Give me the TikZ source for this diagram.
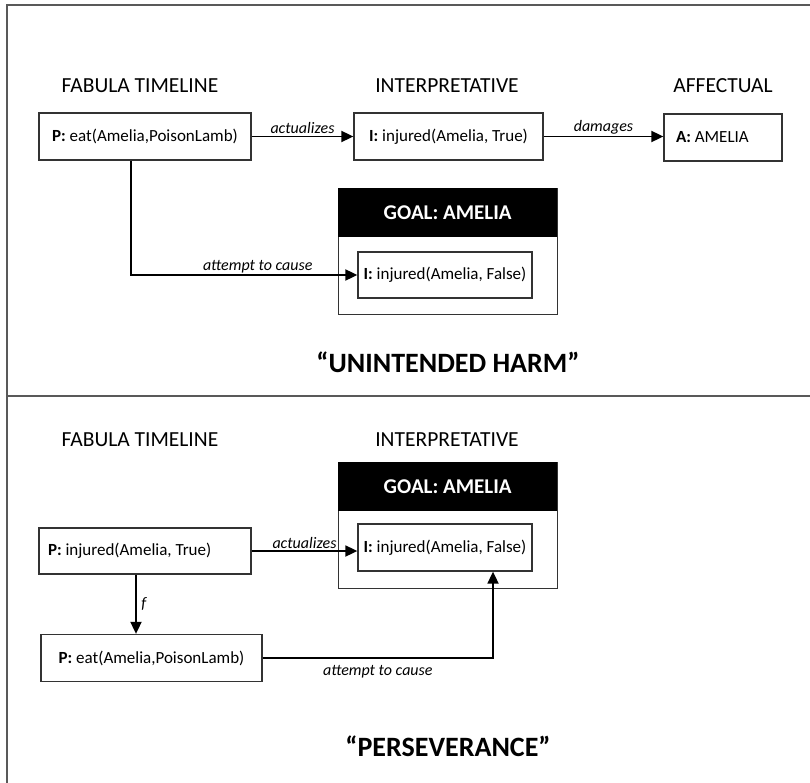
\documentclass[tikz,border=0pt]{standalone}
\usepackage{fontspec}
\setmainfont{Carlito}
\usetikzlibrary{arrows.meta}
\begin{document}
\begin{tikzpicture}[x=1pt,y=-1pt,
  frame/.style={draw=black!65, line width=1.6pt},
  box/.style={draw=black!80, line width=1.3pt, fill=white, inner sep=0pt,
    font=\fontsize{17}{20}\selectfont},
  goalbox/.style={draw=black!80, line width=1.3pt, fill=white, inner sep=0pt,
    minimum width=219pt, minimum height=126pt, anchor=north west},
  goalhdr/.style={fill=black, text=white, inner sep=0pt, minimum width=219pt,
    minimum height=49pt, anchor=north west, font=\bfseries\fontsize{21}{24}\selectfont},
  hdr/.style={font=\fontsize{21.5}{24}\selectfont},
  lbl/.style={font=\itshape\fontsize{16}{18}\selectfont, inner sep=1.5pt},
  conn/.style={draw=black, line width=1.8pt, -{Triangle[length=12pt,width=11pt]}},
  title/.style={font=\bfseries\fontsize{28}{32}\selectfont}]
\useasboundingbox (0,0) rectangle (810,783);

% panel frame
\draw[frame] (810,5) -- (7,5) -- (7,783);
\draw[frame] (7,396) -- (810,396);

% ---------- top panel ----------
\node[hdr] (th1) at (140,86) {FABULA TIMELINE};
\node[hdr] (th2) at (447,86) {INTERPRETATIVE};
\node[hdr] (th3) at (723,86) {AFFECTUAL};

\node[box, minimum width=212pt, minimum height=47pt] (p1) at (145,136.5)
  {\textbf{P:} eat(Amelia,PoisonLamb)};
\node[box, minimum width=189pt, minimum height=47pt] (i1) at (448.5,136.5)
  {\textbf{I:} injured(Amelia, True)};
\node[box, minimum width=118pt, minimum height=47pt] (a1) at (723,137.5)
  {\makebox[94pt][l]{\textbf{A:} AMELIA}};

\node[goalbox] (g1) at (338,188) {};
\node[goalhdr] (g1h) at (338,188) {GOAL: AMELIA};
\node[box, minimum width=174pt, minimum height=46pt] (g1i) at (445,275)
  {\textbf{I:} injured(Amelia, False)};

\draw[conn] (p1.east) -- (p1.east -| i1.west)
  node[midway, above, lbl] {actualizes};
\draw[conn] (i1.east) -- (i1.east -| a1.west)
  node[midway, above, lbl] {damages};
\draw[conn] ([xshift=-14pt]p1.south) |- (g1i.west)
  node[pos=0.78, above, lbl] {attempt to cause};

\node[title] (t1) at (448,362) {“UNINTENDED HARM”};

% ---------- bottom panel ----------
\node[hdr] (bh1) at (140,440) {FABULA TIMELINE};
\node[hdr] (bh2) at (447,440) {INTERPRETATIVE};

\node[goalbox] (g2) at (338,462) {};
\node[goalhdr] (g2h) at (338,462) {GOAL: AMELIA};
\node[box, minimum width=174pt, minimum height=47pt] (g2i) at (445,547.5)
  {\textbf{I:} injured(Amelia, False)};

\node[box, minimum width=212pt, minimum height=46pt] (p2) at (145,551)
  {\makebox[194pt][l]{\textbf{P:} injured(Amelia, True)}};
\node[box, minimum width=221pt, minimum height=47pt] (p3) at (151.5,658)
  {\textbf{P:} eat(Amelia,PoisonLamb)};

\draw[conn] (p2.east) -- (p2.east -| g2i.west)
  node[midway, above, lbl] {actualizes};
\draw[conn] ([xshift=-9pt]p2.south) -- ([xshift=-9pt]p2.south |- p3.north)
  node[midway, right, lbl, xshift=3pt] {f};
\draw[conn] (p3.east) -| ([xshift=48pt]g2i.south)
  node[pos=0.25, below, lbl, yshift=-5pt] {attempt to cause};

\node[title] (t2) at (448,746) {“PERSEVERANCE”};
\end{tikzpicture}
\end{document}
